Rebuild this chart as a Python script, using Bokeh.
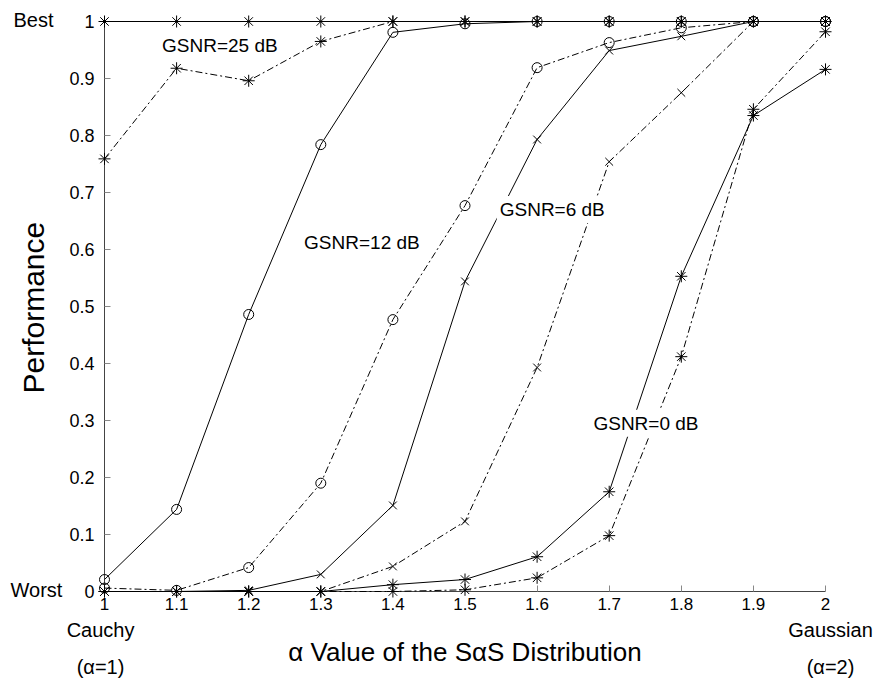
import math
from bokeh.plotting import figure
from bokeh.models import Range1d, FixedTicker, NumeralTickFormatter, ColumnDataSource
from bokeh.core.properties import value
from bokeh.embed import file_html
from bokeh.resources import INLINE

# ---- data ----
alpha = [1.0, 1.1, 1.2, 1.3, 1.4, 1.5, 1.6, 1.7, 1.8, 1.9, 2.0]

g25_solid = [1.0, 1.0, 1.0, 1.0, 1.0, 1.0, 1.0, 1.0, 1.0, 1.0, 1.0]
g25_dash = [0.759, 0.918, 0.896, 0.965, 1.0, 1.0, 1.0, 1.0, 1.0, 1.0, 1.0]
g12_solid = [0.021, 0.144, 0.486, 0.784, 0.981, 0.996, 1.0, 1.0, 1.0, 1.0, 1.0]
g12_dash = [0.006, 0.002, 0.042, 0.19, 0.477, 0.677, 0.919, 0.963, 0.989, 1.0, 1.0]
g6_solid = [0.0, 0.0, 0.002, 0.030, 0.151, 0.544, 0.793, 0.949, 0.974, 1.0, 1.0]
g6_dash = [0.0, 0.0, 0.0, 0.0, 0.044, 0.123, 0.393, 0.754, 0.875, 1.0, 1.0]
g0_solid = [0.0, 0.0, 0.0, 0.0, 0.012, 0.021, 0.061, 0.175, 0.553, 0.835, 0.916]
g0_dash = [0.0, 0.0, 0.0, 0.0, 0.0, 0.003, 0.024, 0.098, 0.412, 0.846, 0.982]

x_ticks = [1.0, 1.1, 1.2, 1.3, 1.4, 1.5, 1.6, 1.7, 1.8, 1.9, 2.0]
y_ticks = [0.0, 0.1, 0.2, 0.3, 0.4, 0.5, 0.6, 0.7, 0.8, 0.9, 1.0]

curve_labels = ["GSNR=25 dB", "GSNR=12 dB", "GSNR=6 dB", "GSNR=0 dB"]
# annotation anchor positions (data coords of label centres)
curve_label_x = [1.160, 1.357, 1.621, 1.751]
curve_label_y = [0.958, 0.612, 0.670, 0.295]

FONT = "Liberation Sans"
DASH = "7 3 2 3"

p = figure(width=878, height=682,
           x_range=Range1d(1, 2), y_range=Range1d(0, 1),
           min_border_left=104, min_border_right=53, min_border_top=21, min_border_bottom=91,
           toolbar_location=None, output_backend="svg")
p.outline_line_color = None
p.xgrid.visible = False
p.ygrid.visible = False
p.background_fill_color = "white"

for ax, ticks in ((p.xaxis, x_ticks), (p.yaxis, y_ticks)):
    ax.ticker = FixedTicker(ticks=ticks)
    ax.formatter = NumeralTickFormatter(format="0.[0]")
    ax.major_tick_in = 6
    ax.major_tick_out = 0
    ax.minor_tick_line_color = None
    ax.major_tick_line_color = "#888888"
    ax.axis_line_color = "#444444"
    ax.major_label_text_font = FONT
    ax.major_label_text_color = "black"
p.xaxis.major_label_text_font_size = "17px"
p.yaxis.major_label_text_font_size = "18px"
p.yaxis.major_label_text_baseline = "alphabetic"
p.xaxis.major_label_standoff = 6
p.yaxis.major_label_standoff = 10

series = [
    (g25_solid, "solid", "asterisk", 12),
    (g25_dash, DASH, "asterisk", 12),
    (g12_solid, "solid", "circle", 10),
    (g12_dash, DASH, "circle", 10),
    (g6_solid, "solid", "x", 11),
    (g6_dash, DASH, "x", 11),
    (g0_solid, "solid", "asterisk", 12),
    (g0_dash, DASH, "asterisk", 12),
]
for ys, dash, marker, size in series:
    src = ColumnDataSource(dict(x=alpha, y=ys))
    p.line("x", "y", source=src, line_color="black", line_width=1, line_dash=dash,
           level="overlay")
    p.scatter("x", "y", source=src, marker=marker, size=size, line_color="black",
              fill_color=None, line_width=1, level="overlay")

lab_src = ColumnDataSource(dict(x=curve_label_x, y=curve_label_y, t=curve_labels))
p.text("x", "y", text="t", source=lab_src, text_font=value(FONT), text_font_size="19px",
       text_align="center", text_baseline="middle", text_color="black",
       background_fill_color="white", padding=3, level="overlay")

# texts around the axes (drawn as text glyphs outside the frame)
def add_text(x, y, text, size, align="center", angle=0.0):
    p.text(x=[x], y=[y], text=[text], text_font=value(FONT), text_font_size=size,
           text_align=align, text_baseline="middle", angle=angle,
           text_color="black", level="overlay")

add_text(0.8738, 1.003, "Best", "20px", align="left")
add_text(0.8697, 0.002, "Worst", "20px", align="left")
add_text(0.9945, -0.068, "Cauchy", "20px")
add_text(0.9945, -0.133, "(α=1)", "20px")
add_text(2.007, -0.068, "Gaussian", "20px")
add_text(2.007, -0.133, "(α=2)", "20px")
add_text(1.5, -0.107, "α Value of the SαS Distribution", "26px")
add_text(0.9015, 0.498, "Performance", "30px", angle=math.pi / 2)

open("out.html", "w").write(file_html(p, INLINE))
